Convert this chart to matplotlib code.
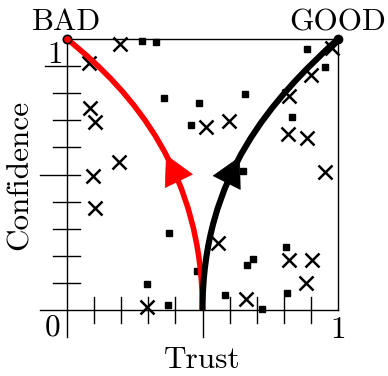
import matplotlib
matplotlib.use("Agg")
import matplotlib.pyplot as plt
import numpy as np
from matplotlib.path import Path
from matplotlib.patches import PathPatch

plt.rcParams["font.family"] = ["cmr10", "DejaVu Serif"]
plt.rcParams["axes.formatter.use_mathtext"] = True

# observations (trust, confidence)
cross_trust = [0.196, 0.081, 0.085, 0.103, 0.192, 0.096, 0.103, 0.295, 0.513, 0.598, 0.557,
               0.661, 0.978, 0.900, 0.819, 0.815, 0.886, 0.952, 0.819, 0.904, 0.882]
cross_conf = [0.982, 0.911, 0.745, 0.694, 0.546, 0.494, 0.376, 0.011, 0.675, 0.697, 0.247,
              0.041, 0.967, 0.867, 0.790, 0.649, 0.635, 0.509, 0.185, 0.185, 0.100]
square_trust = [0.277, 0.328, 0.358, 0.487, 0.458, 0.657, 0.886, 0.952, 0.830, 0.649,
                0.376, 0.480, 0.295, 0.373, 0.583, 0.664, 0.686, 0.808, 0.812, 0.720]
square_conf = [0.993, 0.989, 0.782, 0.764, 0.683, 0.797, 0.963, 0.897, 0.712, 0.513,
               0.284, 0.144, 0.096, 0.018, 0.055, 0.166, 0.188, 0.232, 0.063, 0.004]

# curve control points (cubic bezier), from the middle of the x-axis up to the corners
bad_curve = [(0.0, 1.0), (0.25, 0.8), (0.5, 0.5), (0.5, 0.0)]
good_curve = [(1.0, 1.0), (0.76, 0.78), (0.5, 0.5), (0.5, 0.0)]


def bez(pts, t):
    p = np.array(pts)
    return ((1 - t) ** 3 * p[0] + 3 * (1 - t) ** 2 * t * p[1]
            + 3 * (1 - t) * t ** 2 * p[2] + t ** 3 * p[3])


fig = plt.figure(figsize=(3.88, 3.76), dpi=100)
ax = fig.add_axes([67 / 388, 66 / 376, 271 / 388, 271 / 376])
ax.set_xlim(0, 1)
ax.set_ylim(0, 1)
ax.axis("off")

lk = dict(color="black", lw=1.0, clip_on=False, zorder=1)
ax.plot([0, 0], [-0.1, 1], **lk)
ax.plot([-0.1, 1], [0, 0], **lk)
ax.plot([0, 1], [1, 1], **lk)
ax.plot([1, 1], [0, 1], **lk)

ticks = np.arange(1, 10) / 10
for t in ticks:
    lo = -0.1 if abs(t - 0.5) < 1e-9 else -0.048
    ax.plot([t, t], [lo, 0.048], **lk)
    lo = -0.1 if abs(t - 0.5) < 1e-9 else (-0.08 if abs(t - 0.9) < 1e-9 else -0.05)
    ax.plot([lo, 0.048], [t, t], **lk)

ax.plot(cross_trust, cross_conf, "x", color="black", ms=10.5, mew=1.8, zorder=2, clip_on=False)
ax.plot(square_trust, square_conf, "s", color="black", ms=5, zorder=2, clip_on=False)

for pts, col, lw, t0, dt in [(bad_curve, "red", 4.0, 0.54, 0.06),
                             (good_curve, "black", 4.4, 0.54, 0.06)]:
    path = Path(pts, [Path.MOVETO, Path.CURVE4, Path.CURVE4, Path.CURVE4])
    ax.add_patch(PathPatch(path, facecolor="none", edgecolor=col, lw=lw,
                           capstyle="butt", zorder=3, clip_on=False))
    tip = bez(pts, t0)
    tail = bez(pts, t0 + dt)
    ax.annotate("", xy=tip, xytext=tail,
                arrowprops=dict(arrowstyle="-|>,head_length=0.6,head_width=0.32",
                                color=col, lw=0.5, mutation_scale=34,
                                shrinkA=0, shrinkB=0), zorder=4)

ax.plot([0], [1], "o", ms=6, mfc="red", mec="black", mew=1.2, zorder=5, clip_on=False)
ax.plot([1], [1], "o", ms=6, mfc="black", mec="black", zorder=5, clip_on=False)

fs = 22.5
ax.text(0, 1.033, "BAD", ha="center", va="baseline", fontsize=fs)
ax.text(1, 1.033, "GOOD", ha="center", va="baseline", fontsize=fs)
ax.text(-0.044, 0.939, "1", ha="center", va="center", fontsize=fs)
ax.text(-0.055, -0.063, "0", ha="center", va="center", fontsize=fs)
ax.text(1.0, -0.074, "1", ha="center", va="center", fontsize=fs)
ax.text(0.5, -0.214, "Trust", ha="center", va="baseline", fontsize=fs)
ax.text(-0.173, 0.5, "Confidence", ha="center", va="center", rotation=90, fontsize=fs)

fig.savefig("out.png", dpi=100)
